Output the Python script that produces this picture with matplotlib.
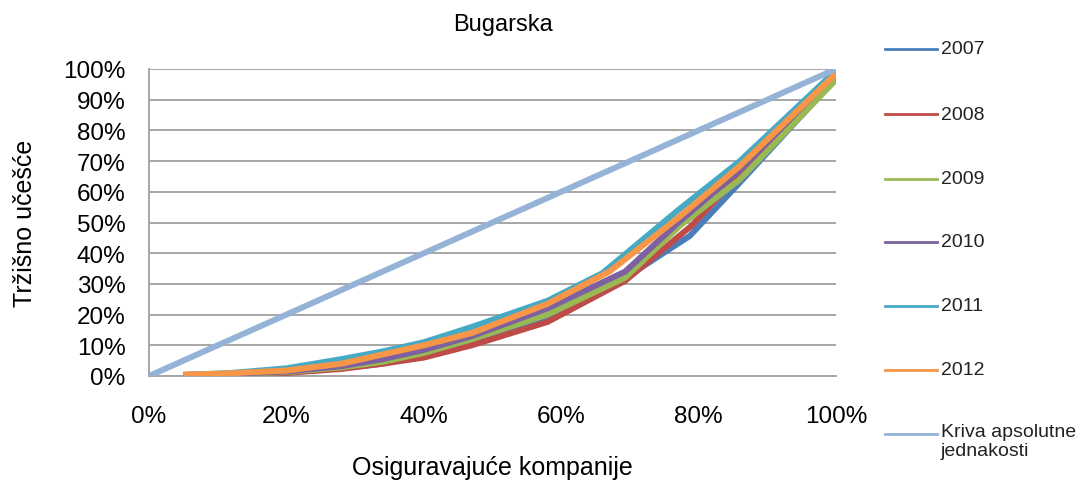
import matplotlib
matplotlib.use("Agg")
import matplotlib.pyplot as plt
from matplotlib.lines import Line2D
from matplotlib.ticker import FuncFormatter, MultipleLocator

plt.rcParams['font.family'] = ['Liberation Sans', 'DejaVu Sans']

# Lorenz curves of the Bulgarian insurance market (cumulative shares, %)
years = ["2007", "2008", "2009", "2010", "2011", "2012"]

x_2007 = [5, 12, 20, 28, 34, 40, 47, 58, 68, 78.7, 86, 100]
y_2007 = [0.2, 0.5, 1.1, 2.5, 4.0, 6.8, 11.0, 19.0, 30.0, 45.6, 63.0, 97.0]

x_2008 = [5, 12, 20, 28, 34, 40, 47, 58, 69.3, 79, 89, 100]
y_2008 = [0.4, 0.6, 1.0, 2.3, 4.0, 6.0, 10.0, 17.6, 31.0, 49.0, 73.0, 99.0]

x_2009 = [5, 12, 20, 28, 34, 40, 47, 58, 69.3, 77.3, 86, 100]
y_2009 = [0.3, 0.6, 1.3, 2.8, 4.6, 7.5, 12.0, 20.0, 32.0, 49.0, 64.0, 96.5]

x_2010 = [5, 12, 20, 28, 34, 40, 47, 58, 69.3, 77.3, 86, 100]
y_2010 = [0.3, 0.7, 1.5, 3.2, 5.5, 8.5, 13.0, 22.0, 34.0, 50.5, 67.0, 99.0]

x_2011 = [5, 12, 20, 28, 34, 40, 47, 58, 66, 77, 86, 100]
y_2011 = [0.3, 1.0, 2.5, 5.5, 8.0, 11.0, 16.0, 24.5, 33.5, 54.0, 70.0, 99.5]

x_2012 = [5, 12, 20, 28, 34, 40, 47, 58, 67, 77.3, 86, 100]
y_2012 = [0.4, 0.9, 1.8, 4.0, 7.0, 10.0, 14.0, 23.5, 34.0, 52.0, 68.4, 98.5]

equality_x = [0, 100]
equality_y = [0, 100]
equality_label = "Kriva apsolutne\njednakosti"

series_x = [x_2007, x_2008, x_2009, x_2010, x_2011, x_2012]
series_y = [y_2007, y_2008, y_2009, y_2010, y_2011, y_2012]
colors = ["#4A7EBB", "#BE4B48", "#98B954", "#7D60A0", "#46AAC5", "#F79646"]
equality_color = "#95B3D7"

W, H = 1091, 485
fig = plt.figure(figsize=(W / 100, H / 100), dpi=100)
ax = fig.add_axes([149 / W, 1 - 377 / H, (836 - 149) / W, (377 - 70) / H])

lw = 4.3
for xs, ys, c in zip(series_x, series_y, colors):
    ax.plot(xs, ys, color=c, lw=lw, solid_joinstyle='round', solid_capstyle='butt', zorder=3)
ax.plot(equality_x, equality_y, color=equality_color, lw=lw, solid_capstyle='butt', zorder=3)

ax.set_xlim(0, 100)
ax.set_ylim(0, 100)
ax.xaxis.set_major_locator(MultipleLocator(20))
ax.yaxis.set_major_locator(MultipleLocator(10))
pct = FuncFormatter(lambda v, _: f"{v:.0f}%")
ax.xaxis.set_major_formatter(pct)
ax.yaxis.set_major_formatter(pct)
ax.tick_params(axis='both', length=0, labelsize=17.5, colors='#000000')
ax.tick_params(axis='x', pad=21)
ax.tick_params(axis='y', pad=17)

ax.grid(axis='y', color='#A6A6A6', lw=1.4, zorder=0)
ax.set_axisbelow(True)
for s in ['top', 'right']:
    ax.spines[s].set_visible(False)
ax.spines['left'].set_color('#A6A6A6')
ax.spines['left'].set_linewidth(1.4)
ax.spines['bottom'].set_color('#A6A6A6')
ax.spines['bottom'].set_linewidth(1.4)

ax.set_xlabel("Osiguravajuće kompanije", fontsize=18, labelpad=20)
ax.set_ylabel("Tržišno učešće", fontsize=18, labelpad=19)
fig.text(503 / W, 1 - 25 / H, "Bugarska", fontsize=17, ha='center', va='center')

# Legend on the right, one entry per row
legend_rows = [50, 115, 180, 243, 307, 371, 435]
labels = years + [equality_label]
handles = colors + [equality_color]
for yr, lab, c in zip(legend_rows, labels, handles):
    yf = 1 - yr / H
    fig.add_artist(Line2D([885 / W, 937 / W], [yf, yf], color=c, lw=2.0))
    if '\n' in lab:
        fig.text(941 / W, yf + 11 / H, lab, fontsize=14, color='#222222',
                 ha='left', va='top', linespacing=1.15)
    else:
        fig.text(941 / W, yf, lab, fontsize=14, color='#222222',
                 ha='left', va='center')

fig.savefig("out.png", dpi=100)
